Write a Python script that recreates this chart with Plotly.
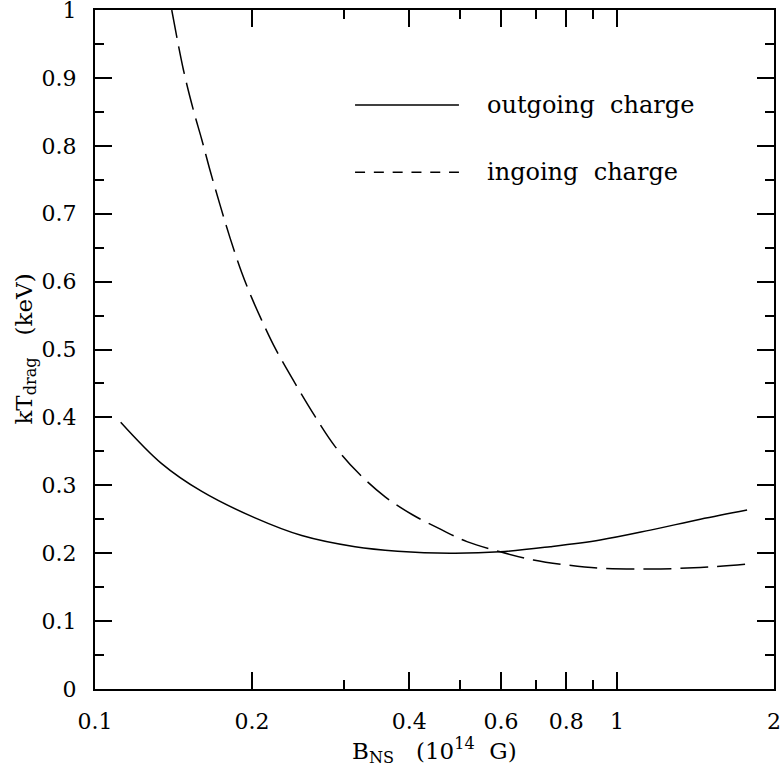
import plotly.graph_objects as go

# ---- data ----
b_out = [0.112, 0.1342, 0.1602, 0.2026, 0.2490, 0.3150, 0.380, 0.4793,
         0.5975, 0.7453, 0.929, 1.159, 1.445, 1.776]
kt_out = [0.393, 0.332, 0.291, 0.252, 0.226, 0.2095, 0.2030, 0.200,
          0.202, 0.2096, 0.2194, 0.234, 0.250, 0.2636]

b_in = [0.1403, 0.1477, 0.1543, 0.1602, 0.1661, 0.1736, 0.1815, 0.1911,
        0.1997, 0.2087, 0.2214, 0.2418, 0.2642, 0.2885, 0.3197, 0.3597,
        0.4050, 0.4600, 0.5160, 0.5975, 0.692, 0.802, 0.929, 1.159,
        1.445, 1.776]
kt_in = [1.0, 0.912, 0.853, 0.809, 0.764, 0.713, 0.664, 0.613,
         0.576, 0.543, 0.502, 0.450, 0.401, 0.357, 0.318, 0.283,
         0.257, 0.235, 0.217, 0.202, 0.190, 0.1826, 0.1778, 0.1767,
         0.179, 0.184]

x_tickvals = [0.1, 0.2, 0.4, 0.6, 0.8, 1, 2]
x_ticktext = ["0.1", "0.2", "0.4", "0.6", "0.8", "1", "2"]
x_minor = [0.3, 0.5, 0.7, 0.9]
y_tickvals = [0, 0.1, 0.2, 0.3, 0.4, 0.5, 0.6, 0.7, 0.8, 0.9, 1]
y_ticktext = ["0", "0.1", "0.2", "0.3", "0.4", "0.5", "0.6", "0.7", "0.8", "0.9", "1"]
legend_labels = ["outgoing  charge", "ingoing  charge"]

FONT = "DejaVu Serif"

fig = go.Figure()
fig.add_trace(go.Scatter(x=b_out, y=kt_out, mode="lines", line_shape="spline",
                         line=dict(color="black", width=1.5), showlegend=False))
fig.add_trace(go.Scatter(x=b_in, y=kt_in, mode="lines", line_shape="spline",
                         line=dict(color="black", width=1.5, dash="28px,9px"),
                         showlegend=False))

# manual legend (lines + text)
leg_y = [0.860, 0.761]
fig.add_shape(type="line", xref="paper", yref="paper", x0=0.383, x1=0.536,
              y0=leg_y[0], y1=leg_y[0], line=dict(color="black", width=1.5))
fig.add_shape(type="line", xref="paper", yref="paper", x0=0.383, x1=0.536,
              y0=leg_y[1], y1=leg_y[1], line=dict(color="black", width=1.5, dash="10px,8.8px"))
for lab, yy in zip(legend_labels, leg_y):
    fig.add_annotation(text=lab, xref="paper", yref="paper", x=0.575, y=yy,
                       xanchor="left", yanchor="middle", showarrow=False,
                       font=dict(family=FONT, size=24, color="black"))

# axis titles
fig.add_annotation(text="B<sub>NS</sub>   (10<sup>14</sup>  G)", xref="paper", yref="paper",
                   x=0.5, y=-0.09, xanchor="center", yanchor="middle", showarrow=False,
                   font=dict(family=FONT, size=23, color="black"))
fig.add_annotation(text="kT<sub>drag</sub>   (keV)", xref="paper", yref="paper",
                   x=-0.103, y=0.5, xanchor="center", yanchor="middle", showarrow=False,
                   textangle=-90, font=dict(family=FONT, size=23, color="black"))

axis_common = dict(showgrid=False, zeroline=False, showline=True, linecolor="black",
                   linewidth=2, mirror="allticks", ticks="inside", tickcolor="black",
                   tickwidth=1.5, ticklen=17, ticklabelstandoff=12,
                   ticklabeloverflow="allow", automargin=False,
                   tickfont=dict(family=FONT, size=22, color="black"))

fig.update_xaxes(type="log", range=[-1, 0.30103], tickmode="array",
                 tickvals=x_tickvals, ticktext=x_ticktext,
                 minor=dict(tickmode="array", tickvals=x_minor, ticks="inside",
                            ticklen=9, tickcolor="black", tickwidth=1.5, showgrid=False),
                 **axis_common)
fig.update_yaxes(range=[0, 1.00001], tickmode="array", tickvals=y_tickvals, ticktext=y_ticktext,
                 minor=dict(dtick=0.05, ticks="inside", ticklen=9, tickcolor="black",
                            tickwidth=1.5, showgrid=False),
                 **axis_common)

fig.update_layout(width=781, height=772, margin=dict(l=95, r=7, t=10, b=83, autoexpand=False),
                  plot_bgcolor="white", paper_bgcolor="white",
                  font=dict(family=FONT, color="black"))

fig.write_html("out.html")
